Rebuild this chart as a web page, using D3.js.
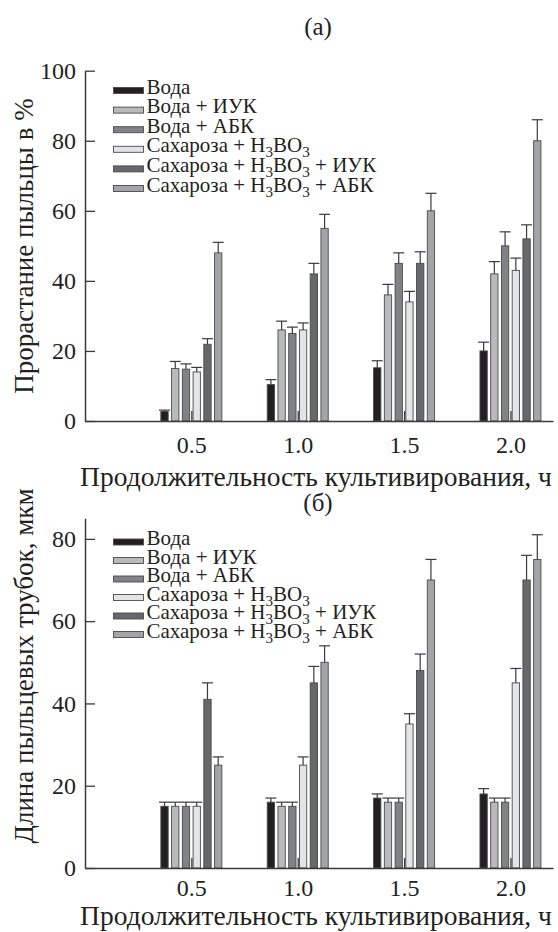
<!DOCTYPE html>
<html>
<head>
<meta charset="utf-8">
<script src="https://cdn.jsdelivr.net/npm/d3@7"></script>
<style>
  html, body { margin: 0; padding: 0; background: #fff; }
  svg { display: block; }
  text { font-family: "Liberation Serif", "Times New Roman", serif; fill: #231f20; }
</style>
</head>
<body>
<div id="chart"></div>
<script>
// ---------------- DATA ----------------
const categories = [0.5, 1.0, 1.5, 2.0];
const xTickLabels = ["0.5", "1.0", "1.5", "2.0"];
const seriesNames = [
  "Вода",
  "Вода + ИУК",
  "Вода + АБК",
  "Сахароза + H3BO3",
  "Сахароза + H3BO3 + ИУК",
  "Сахароза + H3BO3 + АБК"
];
const seriesColors = ["#231f20", "#b9babc", "#808285", "#e3e4e5", "#67686b", "#a3a4a7"];

// (а) pollen germination, %
const germWater      = [2.7, 10.4, 15.2, 20];
const germWaterIAA   = [15, 26, 36, 42];
const germWaterABA   = [14.8, 25, 45, 50];
const germSucB       = [14, 26, 34, 43];
const germSucBIAA    = [21.9, 42, 45, 52];
const germSucBABA    = [48, 55, 60, 80];
const germErrWater    = [0.4, 1.4, 2, 2.5];
const germErrWaterIAA = [2, 2.5, 3, 3.5];
const germErrWaterABA = [1.5, 1.8, 3, 4];
const germErrSucB     = [1.3, 2, 3, 3.5];
const germErrSucBIAA  = [1.6, 3, 3.3, 4];
const germErrSucBABA  = [3, 4, 5, 6];
const germYTicks = [0, 20, 40, 60, 80, 100];

// (б) pollen tube length, µm
const tubeWater      = [15, 16, 17, 18];
const tubeWaterIAA   = [15, 15, 16, 16];
const tubeWaterABA   = [15, 15, 16, 16];
const tubeSucB       = [15, 25, 35, 45];
const tubeSucBIAA    = [41, 45, 48, 70];
const tubeSucBABA    = [25, 50, 70, 75];
const tubeErrWater    = [1, 1, 1, 1.3];
const tubeErrWaterIAA = [1, 1, 1, 1];
const tubeErrWaterABA = [1, 1, 1, 1];
const tubeErrSucB     = [1, 2, 2.5, 3.5];
const tubeErrSucBIAA  = [4, 4, 4, 6];
const tubeErrSucBABA  = [2, 4, 5, 6];
const tubeYTicks = [0, 20, 40, 60, 80];

const panelTitles = ["(а)", "(б)"];
const xTitle = "Продолжительность культивирования, ч";
const yTitles = ["Прорастание пыльцы в %", "Длина пыльцевых трубок, мкм"];

// ---------------- DRAW ----------------
const W = 558, H = 932;
const svg = d3.select("#chart").append("svg").attr("width", W).attr("height", H);

const x = d3.scaleLinear().domain([0, 2.2]).range([85, 553]);
const xs = d3.scaleBand().domain(d3.range(seriesNames.length)).range([-30.5, 30.5]).paddingInner(0.32);

function addLabel(sel, name) {
  const parts = name.split("H3BO3");
  sel.append("tspan").text(parts[0]);
  if (parts.length > 1) {
    sel.append("tspan").text("H");
    sel.append("tspan").attr("dy", 5).attr("font-size", "72%").text("3");
    sel.append("tspan").attr("dy", -5).text("BO");
    sel.append("tspan").attr("dy", 5).attr("font-size", "72%").text("3");
    sel.append("tspan").attr("dy", -5).text(parts[1]);
  }
}

function drawPanel(cfg) {
  const g = svg.append("g");
  const y = d3.scaleLinear().domain([0, cfg.yMax]).range([cfg.y0, cfg.y1]);

  // panel title
  g.append("text").attr("x", 318).attr("y", cfg.titleY).attr("text-anchor", "middle")
    .attr("font-size", 25).text(cfg.title);

  // y axis
  const yAxis = d3.axisLeft(y).tickValues(cfg.yTicks).tickFormat(d3.format("d")).tickSizeInner(-10).tickSizeOuter(0);
  const ya = g.append("g").attr("transform", `translate(${x(0)},0)`).call(yAxis);
  ya.select(".domain").attr("stroke", "#3a3a3a").attr("stroke-width", 1.5);
  ya.selectAll(".tick line").attr("stroke", "#3a3a3a").attr("stroke-width", 1.3);
  ya.selectAll(".tick text").attr("x", -9).attr("font-size", 24)
    .style("font-family", '"Liberation Serif", serif').attr("fill", "#231f20");

  // y title
  g.append("text").attr("transform", `translate(33,${cfg.yTitleY}) rotate(-90)`)
    .attr("text-anchor", "middle").attr("font-size", 27).text(cfg.yTitle);

  // bars
  cfg.values.forEach((vals, si) => {
    const sg = g.append("g");
    sg.selectAll("rect").data(categories).join("rect")
      .attr("x", (c) => x(c) + xs(si))
      .attr("width", xs.bandwidth())
      .attr("y", (c, i) => y(vals[i]))
      .attr("height", (c, i) => y(0) - y(vals[i]))
      .attr("fill", seriesColors[si])
      .attr("stroke", "#4a4a4c").attr("stroke-width", 0.9);
    const errs = cfg.errors[si];
    sg.selectAll("line.err").data(categories).join("line").attr("class", "err")
      .attr("x1", (c) => x(c) + xs(si) + xs.bandwidth() / 2)
      .attr("x2", (c) => x(c) + xs(si) + xs.bandwidth() / 2)
      .attr("y1", (c, i) => y(vals[i]))
      .attr("y2", (c, i) => y(vals[i] + errs[i]))
      .attr("stroke", "#3a3a3a").attr("stroke-width", 1.2);
    sg.selectAll("line.cap").data(categories).join("line").attr("class", "cap")
      .attr("x1", (c) => x(c) + xs(si) + xs.bandwidth() / 2 - 5.5)
      .attr("x2", (c) => x(c) + xs(si) + xs.bandwidth() / 2 + 5.5)
      .attr("y1", (c, i) => y(vals[i] + errs[i]))
      .attr("y2", (c, i) => y(vals[i] + errs[i]))
      .attr("stroke", "#3a3a3a").attr("stroke-width", 1.2);
  });

  // x axis
  const xAxis = d3.axisBottom(x).tickValues(categories).tickFormat((d, i) => xTickLabels[i])
    .tickSizeInner(-10).tickSizeOuter(0);
  const xa = g.append("g").attr("transform", `translate(0,${y(0)})`).call(xAxis);
  xa.select(".domain").attr("stroke", "#3a3a3a").attr("stroke-width", 1.5);
  xa.selectAll(".tick line").attr("stroke", "#3a3a3a").attr("stroke-width", 1.3);
  xa.selectAll(".tick text").attr("y", 0).attr("dy", cfg.xTickDy).attr("font-size", 24)
    .style("font-family", '"Liberation Serif", serif').attr("fill", "#231f20");

  // x title
  g.append("text").attr("x", 316).attr("y", cfg.xTitleY).attr("text-anchor", "middle")
    .attr("font-size", 27.5).text(xTitle);

  // legend
  const lg = g.append("g");
  seriesNames.forEach((name, i) => {
    const by = cfg.legY + i * cfg.legStep;
    lg.append("rect").attr("x", 113.5).attr("y", by - 6).attr("width", 30).attr("height", 6)
      .attr("fill", seriesColors[i]).attr("stroke", "#4a4a4c").attr("stroke-width", 0.9);
    const t = lg.append("text").attr("x", 146.5).attr("y", by).attr("font-size", 21);
    addLabel(t, name);
  });
}

drawPanel({
  title: panelTitles[0], titleY: 35,
  yMax: 100, y0: 421, y1: 70.7, yTicks: germYTicks,
  yTitle: yTitles[0], yTitleY: 246,
  values: [germWater, germWaterIAA, germWaterABA, germSucB, germSucBIAA, germSucBABA],
  errors: [germErrWater, germErrWaterIAA, germErrWaterABA, germErrSucB, germErrSucBIAA, germErrSucBABA],
  xTickDy: 32, xTitleY: 486,
  legY: 93.5, legStep: 19.6
});

drawPanel({
  title: panelTitles[1], titleY: 511,
  yMax: 85, y0: 868, y1: 518.3, yTicks: tubeYTicks,
  yTitle: yTitles[1], yTitleY: 666,
  values: [tubeWater, tubeWaterIAA, tubeWaterABA, tubeSucB, tubeSucBIAA, tubeSucBABA],
  errors: [tubeErrWater, tubeErrWaterIAA, tubeErrWaterABA, tubeErrSucB, tubeErrSucBIAA, tubeErrSucBABA],
  xTickDy: 28, xTitleY: 925,
  legY: 545, legStep: 18.5
});
</script>
</body>
</html>
